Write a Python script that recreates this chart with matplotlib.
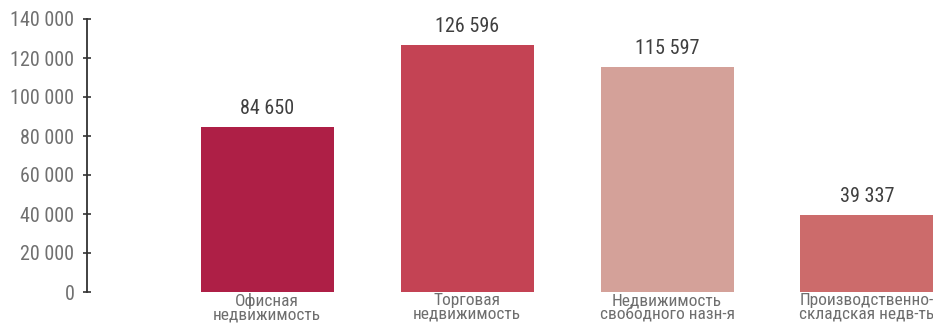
import matplotlib
matplotlib.use("Agg")
import matplotlib.pyplot as plt
from matplotlib.ticker import FuncFormatter

categories = ["Офисная\nнедвижимость", "Торговая\nнедвижимость",
              "Недвижимость\nсвободного назн-я", "Производственно-\nскладская недв-ть"]
values = [84650, 126596, 115597, 39337]
value_labels = ["84 650", "126 596", "115 597", "39 337"]
colors = ["#ae1f46", "#c44354", "#d4a199", "#cc6b6b"]
yticks = [0, 20000, 40000, 60000, 80000, 100000, 120000, 140000]

plt.rcParams['font.family'] = ['Roboto Condensed', 'Roboto', 'DejaVu Sans']

fig = plt.figure(figsize=(9.33, 3.27), dpi=100)
ax = fig.add_axes([87/933, 1-292/327, (933-87)/933, (292-19)/327])
x = list(range(len(values)))
ax.bar(x, values, width=0.665, color=colors)
ax.set_xlim(-0.9, 3.33)
ax.set_ylim(0, 140000)
ax.set_yticks(yticks)
ax.yaxis.set_major_formatter(FuncFormatter(lambda v, p: f"{int(v):,}".replace(",", " ")))
ax.tick_params(axis='y', direction='inout', length=6, width=1.2, colors='#333333',
               labelcolor='#707070', labelsize=14.5, pad=6)
for s in ['top', 'right', 'bottom']:
    ax.spines[s].set_visible(False)
ax.spines['left'].set_color('#333333')
ax.spines['left'].set_linewidth(1.3)
ax.set_xticks(x)
ax.set_xticklabels(categories, fontsize=12.5, color='#6e6e6e', linespacing=0.82)
ax.tick_params(axis='x', length=0, pad=1)
for xi, v, lbl in zip(x, values, value_labels):
    ax.annotate(lbl, (xi, v), xytext=(0, 9.4), textcoords='offset points',
                ha='center', va='baseline', fontsize=14.5, color='#3f3f3f')
fig.savefig("out.png", dpi=100)
